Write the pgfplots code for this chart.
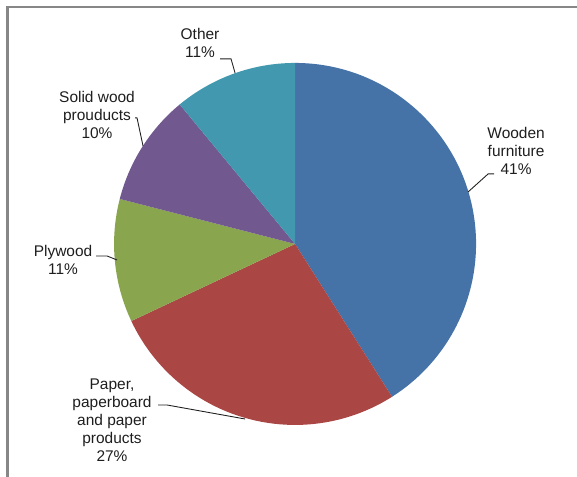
\documentclass[border=0pt]{standalone}
\usepackage{pgfplots}
\pgfplotsset{compat=1.18}
\usepackage{pgfplotstable}
\usepackage{fontspec}
\setmainfont{Liberation Sans}
\definecolor{cBlue}{HTML}{4572A7}
\definecolor{cRed}{HTML}{AA4643}
\definecolor{cGreen}{HTML}{89A54E}
\definecolor{cPurple}{HTML}{71588F}
\definecolor{cTeal}{HTML}{4198AF}
\definecolor{frameGray}{HTML}{878787}
\definecolor{txt}{HTML}{1E1E1E}
\pgfplotstableread{
value color
41 cBlue
27 cRed
11 cGreen
10 cPurple
11 cTeal
}\piedata
\begin{document}
\begin{tikzpicture}
\useasboundingbox (0,0) rectangle (11.54cm,9.52cm);
\begin{axis}[x=0.02cm,y=0.02cm,xmin=0,xmax=577,ymin=0,ymax=476,
  hide axis,clip=false,anchor=origin,at={(0,0)}]
\pgfplotstablegetrowsof{\piedata}
\pgfmathtruncatemacro\nrows{\pgfplotsretval-1}
\gdef\cumval{0}
\pgfplotsforeachungrouped \i in {0,...,\nrows}{%
  \pgfplotstablegetelem{\i}{value}\of\piedata \let\sliceval\pgfplotsretval
  \pgfplotstablegetelem{\i}{color}\of\piedata \let\slicecol\pgfplotsretval
  \pgfmathsetmacro\angA{90-3.6*\cumval}%
  \pgfmathsetmacro\angB{90-3.6*(\cumval+\sliceval)}%
  \pgfmathsetmacro\newcum{\cumval+\sliceval}%
  \global\let\cumval\newcum
  \edef\temp{\noexpand\fill[\slicecol] (axis cs:295,232) -- ([shift={(\angA:3.62cm)}]axis cs:295,232) arc[start angle=\angA, end angle=\angB, radius=3.62cm] -- cycle;}%
  \temp
}
\draw[frameGray,line width=1.15pt] (axis cs:7.5,-30) -- (axis cs:7.5,468.5) -- (axis cs:620,468.5);
\tikzset{lbl/.style={align=center,text=txt,font=\fontsize{8.8}{10.3}\selectfont,inner sep=0pt}}
\draw[txt,line width=0.5pt] (axis cs:494,302) -- (axis cs:488,302) -- (axis cs:468,284);
\draw[txt,line width=0.5pt] (axis cs:220,417) -- (axis cs:231,417) -- (axis cs:235,403);
\draw[txt,line width=0.5pt] (axis cs:135,358) -- (axis cs:137,358) -- (axis cs:143,330);
\draw[txt,line width=0.5pt] (axis cs:96,220) -- (axis cs:107,220) -- (axis cs:117,216);
\draw[txt,line width=0.5pt] (axis cs:158,71) -- (axis cs:167,71) -- (axis cs:245,57);
\node[lbl] at (axis cs:516,325) {Wooden\\furniture\\41\%};
\node[lbl] at (axis cs:200,433) {Other\\11\%};
\node[lbl] at (axis cs:97,361) {Solid wood\\prouducts\\10\%};
\node[lbl] at (axis cs:63,216) {Plywood\\11\%};
\node[lbl] at (axis cs:112,56) {Paper,\\paperboard\\and paper\\products\\27\%};
\end{axis}
\end{tikzpicture}
\end{document}
